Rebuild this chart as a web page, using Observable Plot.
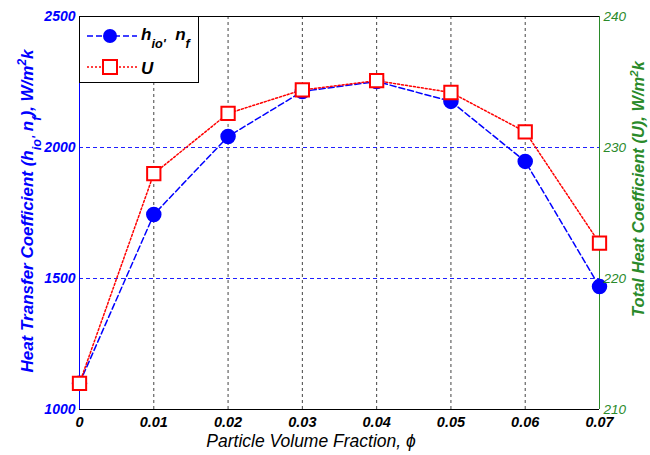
<!DOCTYPE html>
<html>
<head>
<meta charset="utf-8">
<script src="https://cdn.jsdelivr.net/npm/d3@7"></script>
<script src="https://cdn.jsdelivr.net/npm/@observablehq/plot@0.6"></script>
<style>
  html, body { margin: 0; padding: 0; background: #fff; }
  #chart svg { display: block; }
</style>
</head>
<body>
<div id="chart"></div>
<script>
// ---- data ----
const phi = [0, 0.01, 0.02, 0.03, 0.04, 0.05, 0.06, 0.07];
const hValues = [1100, 1744, 2042, 2214, 2252, 2176, 1947, 1469];
const uValues = [212, 228.0, 232.6, 234.4, 235.1, 234.2, 231.2, 222.7];
const xTicks = [0, 0.01, 0.02, 0.03, 0.04, 0.05, 0.06, 0.07];
const leftTicks = [1000, 1500, 2000, 2500];
const rightTicks = [210, 220, 230, 240];
const gridY = [1500, 2000];

// map right axis (U) onto left scale
const uMin = 210, uMax = 240, hMin = 1000, hMax = 2500;
const uToLeft = u => hMin + (u - uMin) * (hMax - hMin) / (uMax - uMin);
const leftToU = v => uMin + (v - hMin) * (uMax - uMin) / (hMax - hMin);

const hData = phi.map((p, i) => ({phi: p, v: hValues[i]}));
const uData = phi.map((p, i) => ({phi: p, v: uToLeft(uValues[i])}));

const BLUE = "#0000ff", RED = "#ff0000", GREEN = "#2a8a2a";
const FONT = "Liberation Sans, Arial, sans-serif";

const plot = Plot.plot({
  width: 650,
  height: 455,
  marginLeft: 79,
  marginRight: 51,
  marginTop: 16,
  marginBottom: 46,
  style: {fontFamily: FONT, background: "#fff"},
  x: {domain: [0, 0.07]},
  y: {domain: [1000, 2500]},
  marks: [
    Plot.ruleY(gridY, {stroke: "#2020ff", strokeDasharray: "4,3", strokeWidth: 1.2}),
    Plot.ruleX(xTicks.slice(1, -1), {y1: 1000, y2: 2500, stroke: "#444", strokeDasharray: "3,3", strokeWidth: 1}),
    Plot.ruleY([1000, 2500], {stroke: "#000", strokeWidth: 1}),
    Plot.ruleX([0], {stroke: BLUE, strokeWidth: 1}),
    Plot.ruleX([0.07], {stroke: GREEN, strokeWidth: 1}),
    Plot.line(hData, {x: "phi", y: "v", stroke: BLUE, strokeWidth: 1.5, strokeDasharray: "6,3"}),
    Plot.line(uData, {x: "phi", y: "v", stroke: RED, strokeWidth: 1.5, strokeDasharray: "2,2"}),
    Plot.dot(hData, {x: "phi", y: "v", fill: BLUE, stroke: BLUE, r: 7}),
    Plot.dot(uData, {x: "phi", y: "v", symbol: "square", fill: "#fff", stroke: RED, strokeWidth: 2, r: 7.5}),
    Plot.axisX(xTicks, {
      tickSize: 0, tickPadding: 7, label: null,
      tickFormat: d => d === 0 ? "0" : d.toFixed(2),
      fontSize: 14.5, fontWeight: "bold", fontStyle: "italic", fill: "#000"
    }),
    Plot.axisY(leftTicks, {
      anchor: "left", tickSize: 0, tickPadding: 4, label: null,
      tickFormat: d => String(d),
      fontSize: 14, fontWeight: "bold", fontStyle: "italic", fill: BLUE
    }),
    Plot.axisY(rightTicks.map(uToLeft), {
      anchor: "right", tickSize: 0, tickPadding: 4, label: null,
      tickFormat: d => String(Math.round(leftToU(d))),
      fontSize: 13.5, fontStyle: "italic", fill: GREEN
    })
  ]
});

document.getElementById("chart").appendChild(plot);

// ---- titles and legend ----
const svg = d3.select(plot);

function richText(g, parts, opts) {
  const t = g.append("text")
    .attr("font-family", FONT)
    .attr("font-size", opts.size)
    .attr("font-weight", opts.weight || "normal")
    .attr("font-style", "italic")
    .attr("fill", opts.fill)
    .attr("text-anchor", opts.anchor || "middle");
  parts.forEach(p => {
    const s = t.append("tspan").text(p.t);
    if (p.sub) s.attr("baseline-shift", "sub").attr("font-size", opts.size * 0.75);
    if (p.sup) s.attr("baseline-shift", "super").attr("font-size", opts.size * 0.7);
  });
  return t;
}

// left title
const gl = svg.append("g").attr("transform", "translate(33,211) rotate(-90)");
richText(gl, [
  {t: "Heat Transfer Coefficient (h"}, {t: "io'", sub: true}, {t: " n"}, {t: "f", sub: true},
  {t: "), W/m"}, {t: "2", sup: true}, {t: "k"}
], {size: 17, weight: "bold", fill: BLUE});

// right title
const gr = svg.append("g").attr("transform", "translate(644,189) rotate(-90)");
richText(gr, [
  {t: "Total Heat Coefficient (U), W/m"}, {t: "2", sup: true}, {t: "k"}
], {size: 16.5, weight: "bold", fill: GREEN});

// x title
const gx = svg.append("g").attr("transform", "translate(311,447)");
richText(gx, [{t: "Particle Volume Fraction, ϕ"}], {size: 17.5, fill: "#000"});

// legend
const lg = svg.append("g");
lg.append("rect").attr("x", 79.5).attr("y", 16.5).attr("width", 119).attr("height", 66)
  .attr("fill", "#fff").attr("stroke", "#000").attr("stroke-width", 1);
lg.append("line").attr("x1", 87).attr("x2", 137).attr("y1", 36).attr("y2", 36)
  .attr("stroke", BLUE).attr("stroke-width", 1.5).attr("stroke-dasharray", "6,3");
lg.append("circle").attr("cx", 110).attr("cy", 36).attr("r", 7).attr("fill", BLUE);
lg.append("line").attr("x1", 87).attr("x2", 137).attr("y1", 67).attr("y2", 67)
  .attr("stroke", RED).attr("stroke-width", 1.5).attr("stroke-dasharray", "2,2");
lg.append("rect").attr("x", 103).attr("y", 60).attr("width", 14).attr("height", 14)
  .attr("fill", "#fff").attr("stroke", RED).attr("stroke-width", 2);
const l1 = lg.append("g").attr("transform", "translate(141,40)");
richText(l1, [{t: "h"}, {t: "io'", sub: true}, {t: "  n"}, {t: "f", sub: true}],
  {size: 17, weight: "bold", fill: "#000", anchor: "start"});
const l2 = lg.append("g").attr("transform", "translate(141,74)");
richText(l2, [{t: "U"}], {size: 17, weight: "bold", fill: "#000", anchor: "start"});
</script>
</body>
</html>
